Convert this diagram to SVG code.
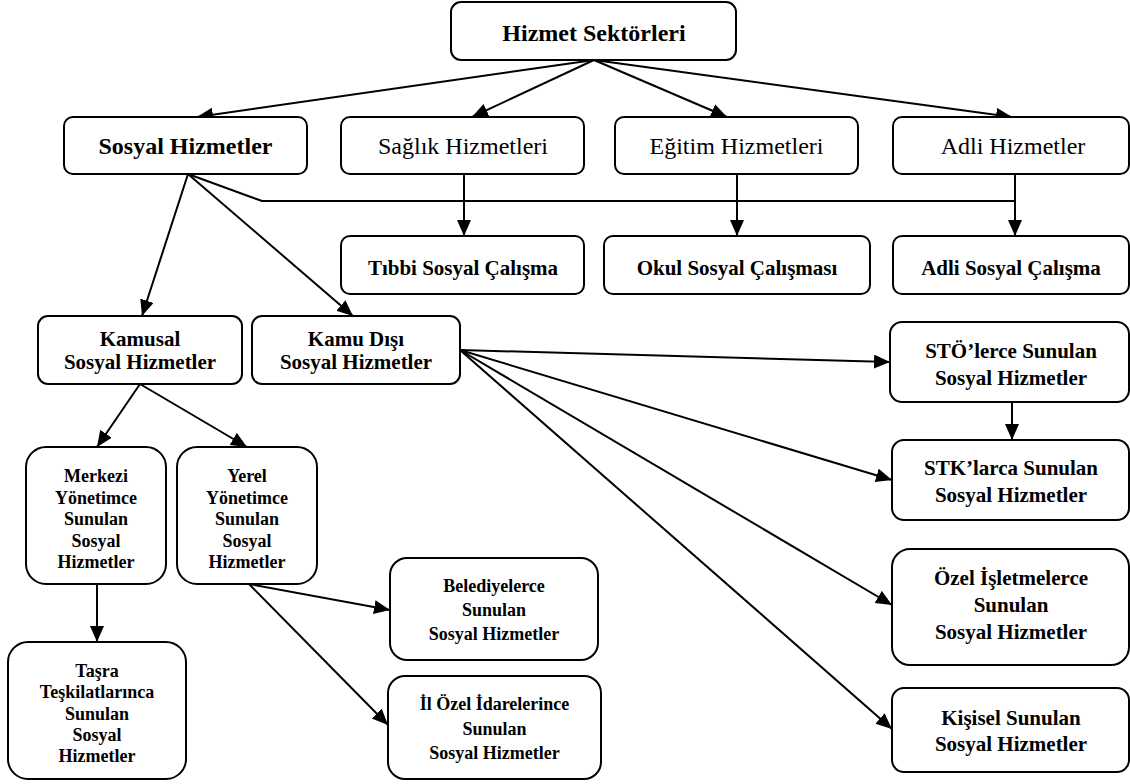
<svg xmlns="http://www.w3.org/2000/svg" width="1130" height="784" viewBox="0 0 1130 784">
<style>
.box{fill:#fff;stroke:#000;stroke-width:2}
.t{font-family:"Liberation Serif","Times New Roman",serif;fill:#000;text-anchor:middle}
.b{font-weight:bold}
.s24{font-size:24px}
.s21{font-size:21px}
.s18{font-size:18px}
.c{fill:none;stroke:#000;stroke-width:2}
</style>
<defs>
<marker id="ah" markerUnits="userSpaceOnUse" markerWidth="17" markerHeight="15" refX="16" refY="7" orient="auto">
<path d="M0,0 L16,7 L0,14 Z" fill="#000"/>
</marker>
</defs>
<g id="connectors">
<line class="c" x1="594" y1="60" x2="197" y2="117" marker-end="url(#ah)"/>
<line class="c" x1="594" y1="60" x2="472" y2="117" marker-end="url(#ah)"/>
<line class="c" x1="594" y1="60" x2="727" y2="117" marker-end="url(#ah)"/>
<line class="c" x1="594" y1="60" x2="1012" y2="117" marker-end="url(#ah)"/>
<line class="c" x1="464" y1="174" x2="464" y2="236" marker-end="url(#ah)"/>
<line class="c" x1="737" y1="174" x2="737" y2="236" marker-end="url(#ah)"/>
<polyline class="c" points="188,174 262,201 1015,201"/>
<line class="c" x1="1015" y1="174" x2="1015" y2="236" marker-end="url(#ah)"/>
<line class="c" x1="188" y1="174" x2="142" y2="316" marker-end="url(#ah)"/>
<line class="c" x1="188" y1="174" x2="353" y2="316" marker-end="url(#ah)"/>
<line class="c" x1="140" y1="384" x2="97" y2="447" marker-end="url(#ah)"/>
<line class="c" x1="140" y1="384" x2="247" y2="447" marker-end="url(#ah)"/>
<line class="c" x1="97" y1="584" x2="97" y2="642" marker-end="url(#ah)"/>
<line class="c" x1="249" y1="584" x2="390" y2="610" marker-end="url(#ah)"/>
<line class="c" x1="249" y1="584" x2="388" y2="725" marker-end="url(#ah)"/>
<line class="c" x1="460" y1="350" x2="890" y2="362" marker-end="url(#ah)"/>
<line class="c" x1="460" y1="350" x2="892" y2="480" marker-end="url(#ah)"/>
<line class="c" x1="460" y1="350" x2="892" y2="605" marker-end="url(#ah)"/>
<line class="c" x1="460" y1="350" x2="892" y2="729" marker-end="url(#ah)"/>
<line class="c" x1="1012" y1="402" x2="1012" y2="440" marker-end="url(#ah)"/>
</g>
<g id="hizmet-sektorleri">
<rect class="box" x="451" y="2" width="285" height="58" rx="10"/>
<text class="t b s24" x="594" y="41">Hizmet Sektörleri</text>
</g>
<g id="sosyal-hizmetler">
<rect class="box" x="64" y="117" width="243" height="57" rx="9"/>
<text class="t b s24" x="185.5" y="154">Sosyal Hizmetler</text>
</g>
<g id="saglik-hizmetleri">
<rect class="box" x="341" y="117" width="243" height="57" rx="9"/>
<text class="t s24" x="463" y="154">Sağlık Hizmetleri</text>
</g>
<g id="egitim-hizmetleri">
<rect class="box" x="615" y="117" width="243" height="57" rx="9"/>
<text class="t s24" x="736.5" y="154">Eğitim Hizmetleri</text>
</g>
<g id="adli-hizmetler">
<rect class="box" x="893" y="117" width="236" height="57" rx="9"/>
<text class="t s24" x="1013" y="154">Adli Hizmetler</text>
</g>
<g id="tibbi-sosyal-calisma">
<rect class="box" x="341" y="236" width="243" height="58" rx="9"/>
<text class="t b s21" x="463" y="275">Tıbbi Sosyal Çalışma</text>
</g>
<g id="okul-sosyal-calismasi">
<rect class="box" x="604" y="236" width="266" height="58" rx="9"/>
<text class="t b s21" x="737" y="275">Okul Sosyal Çalışması</text>
</g>
<g id="adli-sosyal-calisma">
<rect class="box" x="893" y="236" width="236" height="58" rx="9"/>
<text class="t b s21" x="1011" y="275">Adli Sosyal Çalışma</text>
</g>
<g id="kamusal">
<rect class="box" x="38" y="316" width="204" height="68" rx="10"/>
<text class="t b s21" x="140" y="346">Kamusal<tspan x="140" dy="23">Sosyal Hizmetler</tspan></text>
</g>
<g id="kamu-disi">
<rect class="box" x="252" y="316" width="208" height="68" rx="10"/>
<text class="t b s21" x="356" y="346">Kamu Dışı<tspan x="356" dy="23">Sosyal Hizmetler</tspan></text>
</g>
<g id="merkezi">
<rect class="box" x="26" y="447" width="140" height="137" rx="20"/>
<text class="t b s18" x="96" y="482">Merkezi<tspan x="96" dy="21.5">Yönetimce</tspan><tspan x="96" dy="21.5">Sunulan</tspan><tspan x="96" dy="21.5">Sosyal</tspan><tspan x="96" dy="21.5">Hizmetler</tspan></text>
</g>
<g id="yerel">
<rect class="box" x="177" y="447" width="140" height="137" rx="20"/>
<text class="t b s18" x="247" y="482">Yerel<tspan x="247" dy="21.5">Yönetimce</tspan><tspan x="247" dy="21.5">Sunulan</tspan><tspan x="247" dy="21.5">Sosyal</tspan><tspan x="247" dy="21.5">Hizmetler</tspan></text>
</g>
<g id="tasra">
<rect class="box" x="8" y="642" width="178" height="137" rx="20"/>
<text class="t b s18" x="97" y="677">Taşra<tspan x="97" dy="21.3">Teşkilatlarınca</tspan><tspan x="97" dy="21.3">Sunulan</tspan><tspan x="97" dy="21.3">Sosyal</tspan><tspan x="97" dy="21.3">Hizmetler</tspan></text>
</g>
<g id="belediyelerce">
<rect class="box" x="390" y="558" width="208" height="102" rx="17"/>
<text class="t b s18" x="494" y="592">Belediyelerce<tspan x="494" dy="24">Sunulan</tspan><tspan x="494" dy="24">Sosyal Hizmetler</tspan></text>
</g>
<g id="il-ozel">
<rect class="box" x="388" y="676" width="213" height="103" rx="17"/>
<text class="t b s18" x="494.5" y="710">İl Özel İdarelerince<tspan x="494.5" dy="24.5">Sunulan</tspan><tspan x="494.5" dy="24.5">Sosyal Hizmetler</tspan></text>
</g>
<g id="sto">
<rect class="box" x="890" y="322" width="239" height="80" rx="12"/>
<text class="t b s21" x="1011" y="358">STÖ’lerce Sunulan<tspan x="1011" dy="27">Sosyal Hizmetler</tspan></text>
</g>
<g id="stk">
<rect class="box" x="892" y="440" width="237" height="80" rx="12"/>
<text class="t b s21" x="1011" y="475">STK’larca Sunulan<tspan x="1011" dy="27">Sosyal Hizmetler</tspan></text>
</g>
<g id="ozel-isletmeler">
<rect class="box" x="892" y="549" width="237" height="116" rx="18"/>
<text class="t b s21" x="1011" y="585">Özel İşletmelerce<tspan x="1011" dy="27">Sunulan</tspan><tspan x="1011" dy="27">Sosyal Hizmetler</tspan></text>
</g>
<g id="kisisel">
<rect class="box" x="892" y="688" width="237" height="84" rx="12"/>
<text class="t b s21" x="1011" y="725">Kişisel Sunulan<tspan x="1011" dy="26">Sosyal Hizmetler</tspan></text>
</g>
</svg>
